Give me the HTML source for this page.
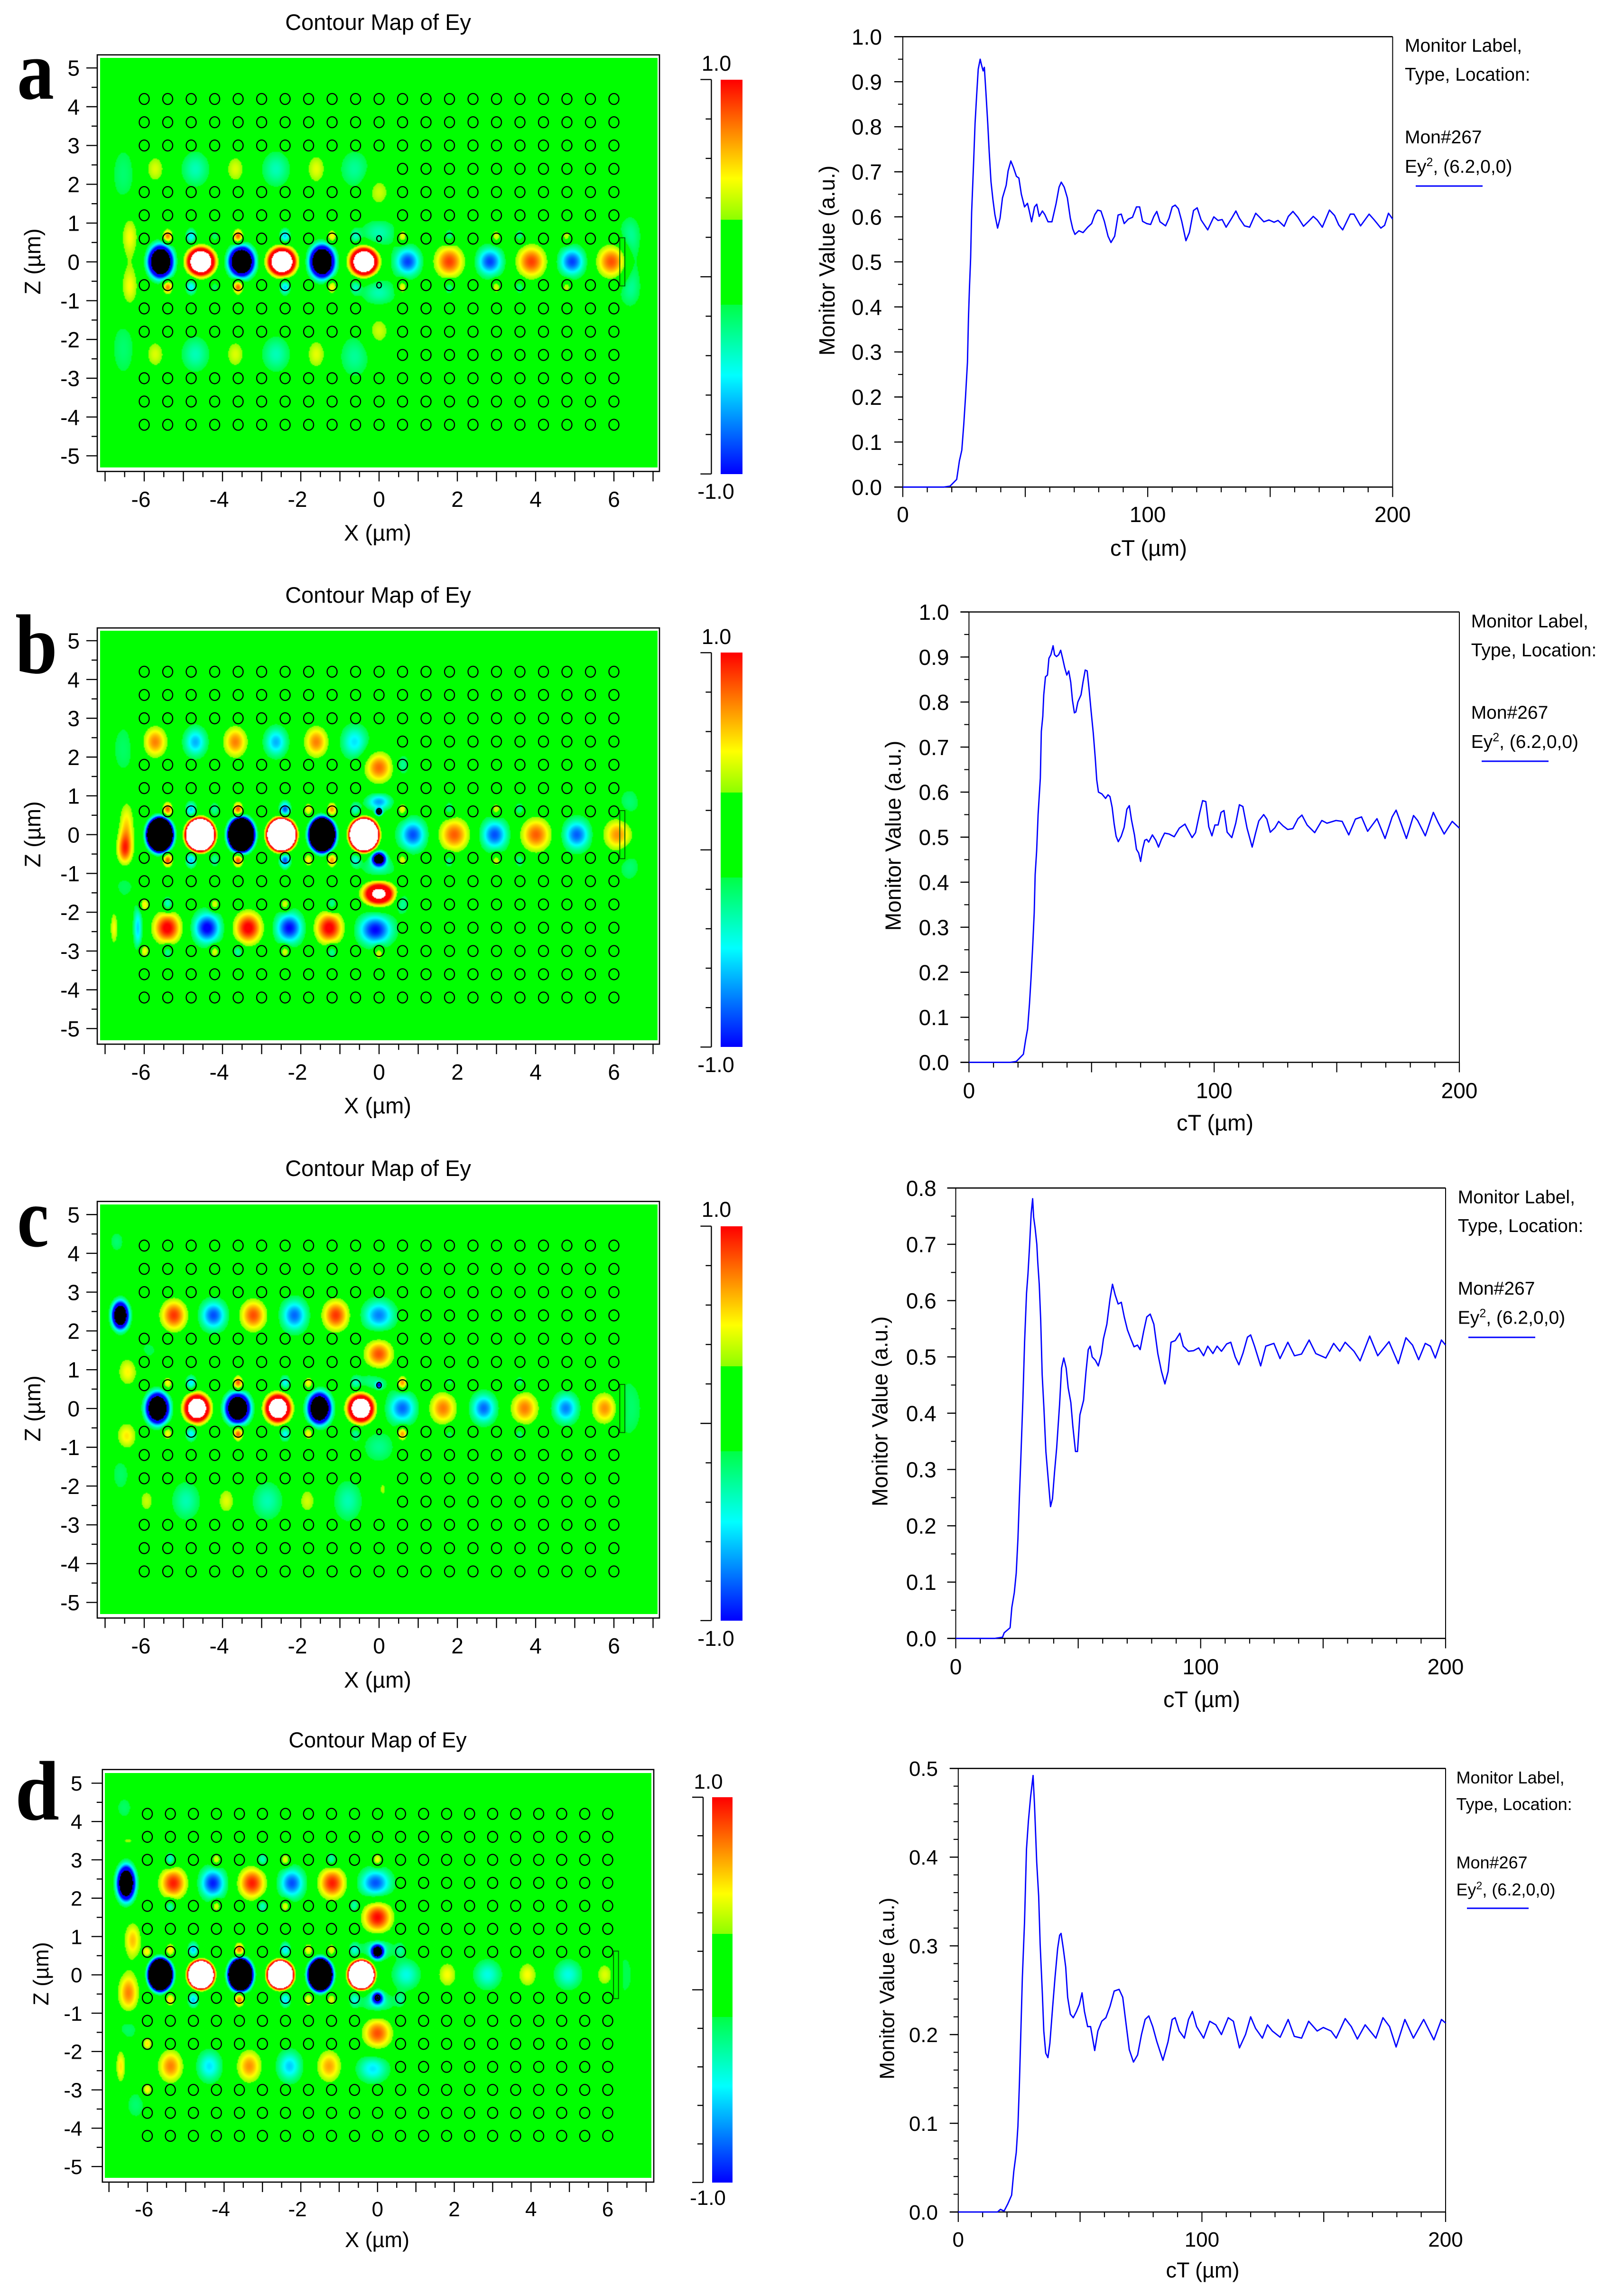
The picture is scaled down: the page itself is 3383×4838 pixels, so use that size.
<!DOCTYPE html>
<html lang="en">
<head>
<meta charset="utf-8">
<title>Contour maps of Ey and monitor traces</title>
<style>
html,body{margin:0;padding:0;background:#fff;}
#page{position:relative;width:3383px;height:4838px;overflow:hidden;background:#fff;}
canvas{position:absolute;display:block;}
svg{position:absolute;left:0;top:0;}
text{font-family:"Liberation Sans",sans-serif;fill:#000;}
.t46{font-size:46px;}
.t47{font-size:47px;}
.t45{font-size:45px;}
.t44{font-size:44px;}
.leg{font-size:39px;}
.legd{font-size:36px;}
.letter{font-family:"Liberation Serif",serif;font-weight:bold;font-size:178px;}
</style>
</head>
<body>
<div id="page">
<canvas id="heat-a"></canvas>
<canvas id="heat-b"></canvas>
<canvas id="heat-c"></canvas>
<canvas id="heat-d"></canvas>
<canvas id="bar-a"></canvas>
<canvas id="bar-b"></canvas>
<canvas id="bar-c"></canvas>
<canvas id="bar-d"></canvas>
<svg id="fig" xmlns="http://www.w3.org/2000/svg" width="3383" height="4838" viewBox="0 0 3383 4838">
<text class="letter" x="36" y="208" textLength="78" lengthAdjust="spacingAndGlyphs">a</text>
<text class="letter" x="32" y="1418" textLength="89" lengthAdjust="spacingAndGlyphs">b</text>
<text class="letter" x="36" y="2626" textLength="67" lengthAdjust="spacingAndGlyphs">c</text>
<text class="letter" x="32" y="3834" textLength="93" lengthAdjust="spacingAndGlyphs">d</text>

<text class="t47" x="797" y="63" text-anchor="middle">Contour Map of Ey</text>
<text class="t47" x="797" y="1270" text-anchor="middle">Contour Map of Ey</text>
<text class="t47" x="797" y="2478" text-anchor="middle">Contour Map of Ey</text>
<text class="t45" x="796" y="3682" text-anchor="middle">Contour Map of Ey</text>

<text class="t47" x="796" y="1139" text-anchor="middle">X (µm)</text>
<text class="t47" x="796" y="2346" text-anchor="middle">X (µm)</text>
<text class="t47" x="796" y="3556" text-anchor="middle">X (µm)</text>
<text class="t45" x="795" y="4735" text-anchor="middle">X (µm)</text>

<text class="t47" transform="translate(85,551) rotate(-90)" text-anchor="middle">Z (µm)</text>
<text class="t47" transform="translate(85,1758) rotate(-90)" text-anchor="middle">Z (µm)</text>
<text class="t47" transform="translate(85,2968) rotate(-90)" text-anchor="middle">Z (µm)</text>
<text class="t45" transform="translate(102,4159) rotate(-90)" text-anchor="middle">Z (µm)</text>

<text class="t45" x="1510" y="149" text-anchor="middle">1.0</text>
<text class="t45" x="1509" y="1051" text-anchor="middle">-1.0</text>
<text class="t45" x="1510" y="1357" text-anchor="middle">1.0</text>
<text class="t45" x="1509" y="2259" text-anchor="middle">-1.0</text>
<text class="t45" x="1510" y="2564" text-anchor="middle">1.0</text>
<text class="t45" x="1509" y="3468" text-anchor="middle">-1.0</text>
<text class="t44" x="1493" y="3769" text-anchor="middle">1.0</text>
<text class="t44" x="1492" y="4646" text-anchor="middle">-1.0</text>

<text class="t46" transform="translate(1759,549) rotate(-90)" text-anchor="middle">Monitor Value (a.u.)</text>
<text class="t46" transform="translate(1898.6,1761) rotate(-90)" text-anchor="middle">Monitor Value (a.u.)</text>
<text class="t46" transform="translate(1870.7,2974) rotate(-90)" text-anchor="middle">Monitor Value (a.u.)</text>
<text class="t44" transform="translate(1884.6,4190) rotate(-90)" text-anchor="middle">Monitor Value (a.u.)</text>

<text class="t47" x="2421" y="1171" text-anchor="middle">cT (µm)</text>
<text class="t47" x="2561" y="2382" text-anchor="middle">cT (µm)</text>
<text class="t47" x="2533" y="3597" text-anchor="middle">cT (µm)</text>
<text class="t45" x="2535" y="4799" text-anchor="middle">cT (µm)</text>

<g>
<text class="leg" x="2961" y="109">Monitor Label,</text>
<text class="leg" x="2961" y="170">Type, Location:</text>
<text class="leg" x="2961" y="302">Mon#267</text>
<text class="leg" x="2961" y="364">Ey<tspan dy="-14" font-size="25">2</tspan><tspan dy="14">, (6.2,0,0)</tspan></text>
<line x1="2984" y1="392" x2="3125" y2="392" stroke="#0000ff" stroke-width="3"/>
</g>
<g>
<text class="leg" x="3100.7" y="1322">Monitor Label,</text>
<text class="leg" x="3100.7" y="1383">Type, Location:</text>
<text class="leg" x="3100.7" y="1514.5">Mon#267</text>
<text class="leg" x="3100.7" y="1576">Ey<tspan dy="-14" font-size="25">2</tspan><tspan dy="14">, (6.2,0,0)</tspan></text>
<line x1="3123" y1="1604" x2="3264" y2="1604" stroke="#0000ff" stroke-width="3"/>
</g>
<g>
<text class="leg" x="3072.8" y="2535.5">Monitor Label,</text>
<text class="leg" x="3072.8" y="2596">Type, Location:</text>
<text class="leg" x="3072.8" y="2728">Mon#267</text>
<text class="leg" x="3072.8" y="2789.5">Ey<tspan dy="-14" font-size="25">2</tspan><tspan dy="14">, (6.2,0,0)</tspan></text>
<line x1="3095" y1="2818" x2="3236" y2="2818" stroke="#0000ff" stroke-width="3"/>
</g>
<g>
<text class="legd" x="3069.5" y="3758">Monitor Label,</text>
<text class="legd" x="3069.5" y="3814">Type, Location:</text>
<text class="legd" x="3069.5" y="3937">Mon#267</text>
<text class="legd" x="3069.5" y="3994">Ey<tspan dy="-13" font-size="23">2</tspan><tspan dy="13">, (6.2,0,0)</tspan></text>
<line x1="3092" y1="4021" x2="3222" y2="4021" stroke="#0000ff" stroke-width="3"/>
</g>
</svg>
</div>
<script>
/* ---------- field data: [x um, z um, amplitude, sigma x, sigma z] ---------- */
const blobsA=[
[-5.58,0,-4.6,.17,.225],[-4.55,0,3.9,.2,.204],[-3.51,0,-4.6,.175,.21],[-2.48,0,3.9,.2,.204],[-1.45,0,-4.6,.17,.225],[-.38,0,3.9,.2,.204],
[.74,0,-.88,.23,.25],[1.8,0,.88,.28,.31],[2.84,0,-.88,.23,.25],[3.9,0,.88,.28,.31],[4.94,0,-.88,.23,.25],[5.95,0,.85,.28,.31],
[-5.72,2.39,.44,.2,.3],[-4.69,2.39,-.36,.26,.33],[-3.67,2.39,.44,.2,.3],[-2.63,2.39,-.36,.26,.33],[-1.6,2.39,.46,.2,.32],[-.62,2.39,-.3,.28,.36],
[-5.72,-2.39,.44,.2,.3],[-4.69,-2.39,-.36,.26,.33],[-3.67,-2.39,.44,.2,.3],[-2.63,-2.39,-.36,.26,.33],[-1.6,-2.39,.46,.2,.32],[-.62,-2.45,-.3,.28,.4],
[-6.53,2.25,-.22,.25,.6],[-6.53,-2.25,-.22,.25,.6],[0,1.79,.42,.22,.3],[0,-1.79,.42,.22,.3],
[-6.37,.65,.5,.17,.42],[-6.37,-.65,.5,.17,.42],
[0,.75,-.35,.32,.25],[0,-.8,-.35,.32,.25],[6.4,.75,-.24,.22,.35],[6.4,-.75,-.24,.22,.35],[6.5,0,-.2,.15,.5]
];
const dotsA=[[-5.4,.8],[-4.8,-.55],[-4.2,-.2],[-3.6,.85],[-2.4,-.6],[-1.2,.55],[-.6,-.35],[.6,.55],[1.8,-.35],[3,.45],[3.6,-.3],[4.8,.4]];
const blobsB=[
[-5.6,0,-40,.13,.17],[-4.57,0,40,.143,.162],[-3.52,0,-40,.13,.17],[-2.49,0,40,.143,.162],[-1.45,0,-40,.13,.17],[-.38,0,40,.143,.162],
[.87,0,-.85,.24,.27],[1.93,0,.82,.29,.32],[2.96,0,-.85,.24,.27],[4.02,0,.82,.29,.32],[5.06,0,-.82,.24,.27],[6.11,0,.72,.28,.32],
[-5.72,2.39,.75,.23,.3],[-4.69,2.39,-.65,.2,.26],[-3.67,2.39,.75,.23,.3],[-2.63,2.39,-.65,.2,.26],[-1.6,2.39,.75,.23,.3],[-.62,2.39,-.55,.24,.3],
[0,1.73,.8,.27,.3],[0,-1.52,2,.26,.193],
[-6.77,-2.4,.5,.08,.35],[-6.16,-2.4,-.6,.08,.38],[-5.41,-2.4,1.05,.26,.3],[-4.39,-2.4,-1.05,.24,.27],[-3.34,-2.4,1.05,.26,.3],[-2.29,-2.4,-1,.24,.27],[-1.27,-2.4,1.05,.26,.3],[-.09,-2.45,-1,.3,.27],
[-6.45,.25,.55,.15,.5],[-6.5,-.4,.72,.15,.3],[-6.53,2.2,-.2,.25,.6],[-6.5,-1.3,-.18,.25,.35],
[0,.85,-.7,.22,.15],[0,-.62,-3,.1,.1],[0,.59,-2.5,.05,.05],[0,-.85,-.35,.3,.2],
[6.4,.8,-.24,.22,.32],[6.4,-.8,-.24,.22,.32],
[-6,-1.8,.55,.09,.12],[-5.4,-1.8,-.5,.09,.14],[-4.2,-1.8,.5,.09,.12],[-2.4,-1.8,.5,.09,.12],[-1.2,-1.8,-.4,.09,.14],[.6,-1.75,-.35,.12,.2],[.6,1.8,-.35,.12,.2],
[-6,-3,.5,.09,.12],[-5.4,-3,-.4,.09,.14],[-4.2,-3,.5,.09,.12],[-3.6,-3,-.4,.09,.12],[-2.4,-3,.5,.09,.12],[-1.2,-3,-.4,.09,.14],[0,-3.05,.5,.09,.14]
];
const dotsB=[[-5.4,.85],[-4.8,-.6],[-4.2,-.3],[-3.6,.85],[-2.4,-.85],[-1.8,.5],[-1.2,.7],[-.6,-.4],[.6,.5],[1.8,-.35],[3,.45],[3.6,-.3]];
const blobsC=[
[-5.66,0,-4.4,.16,.217],[-4.65,0,3.3,.19,.213],[-3.61,0,-4.4,.17,.21],[-2.58,0,3.3,.19,.213],[-1.52,0,-4.4,.16,.217],[-.46,0,3.3,.195,.213],
[.6,0,-.8,.25,.27],[1.64,0,.76,.26,.31],[2.68,0,-.8,.22,.26],[3.73,0,.76,.26,.31],[4.78,0,-.75,.22,.26],[5.8,0,.76,.26,.31],
[-6.61,2.4,-3.6,.12,.2],[-5.24,2.4,.9,.25,.3],[-4.23,2.4,-.85,.23,.26],[-3.21,2.4,.85,.25,.3],[-2.16,2.4,-.8,.23,.28],[-1.1,2.4,.9,.25,.3],[0,2.4,-.75,.28,.27],
[0,1.4,.85,.27,.28],[-6.42,.95,.52,.2,.3],[-6.45,-.72,.55,.2,.28],
[-5.94,-2.39,.4,.16,.26],[-4.93,-2.39,-.35,.26,.36],[-3.9,-2.39,.45,.18,.28],[-2.85,-2.39,-.35,.28,.36],[-1.83,-2.39,.42,.18,.28],[-.79,-2.39,-.35,.26,.38],
[.1,-2.09,.36,.08,.16],[0,-1,-.28,.3,.3],[-6.6,-1.7,-.2,.2,.4],[-6.7,4.3,-.22,.15,.22],[6.35,0,-.26,.3,.6],
[0,.6,-1.1,.05,.05],[-.15,.7,-.3,.3,.2],[-5.9,1.5,-.16,.3,.3]
];
const dotsC=[[-5.4,.5],[-4.8,-.55],[-3.6,.85],[-2.4,-.5],[-1.8,.5],[-.6,-.3],[.6,.75],[1.8,-.25],[3.6,-.3]];
const blobsD=[
[-5.66,0,-40,.122,.162],[-4.6,0,40,.13,.142],[-3.57,0,-40,.122,.162],[-2.53,0,40,.13,.142],[-1.49,0,-40,.122,.162],[-.42,0,40,.13,.142],
[.75,0,-.45,.25,.27],[1.82,0,.5,.2,.27],[2.87,0,-.45,.25,.27],[3.91,0,.5,.2,.27],[4.97,0,-.45,.25,.27],[5.95,0,.5,.2,.27],
[-6.55,2.39,-4,.13,.25],[-5.32,2.39,.95,.26,.3],[-4.29,2.39,-.95,.23,.27],[-3.27,2.39,.95,.26,.3],[-2.23,2.39,-.85,.23,.27],[-1.18,2.39,.95,.26,.3],[-.05,2.39,-.85,.28,.26],
[0,1.5,1,.28,.3],[0,-1.53,.85,.28,.3],
[-6.69,-2.39,.55,.1,.35],[-5.39,-2.39,.75,.24,.32],[-4.38,-2.39,-.55,.22,.28],[-3.34,-2.39,.72,.24,.32],[-2.29,-2.39,-.6,.22,.28],[-1.26,-2.39,.68,.24,.32],[-.12,-2.45,-.55,.28,.25],
[-6.38,.9,.62,.17,.36],[-6.49,-.48,.75,.2,.4],[-6.5,-1.36,-.25,.22,.28],[-6.3,-3.4,-.22,.2,.3],[-6.6,4.36,-.2,.18,.25],[-6.5,3.5,.32,.18,.1],
[0,.6,-3,.09,.1],[0,-.6,-1.5,.09,.1],[0,.7,-.4,.3,.2],[0,-.75,-.4,.3,.2],[6.4,0,-.18,.3,.65],
[-5.4,3,-.5,.09,.13],[-4.2,3,.5,.09,.12],[-3,3,-.45,.09,.12],[-2.4,3,.5,.09,.12],[-1.2,3,-.45,.09,.13],[0,3,.55,.09,.12],
[-5.4,1.8,-.45,.09,.13],[-4.2,1.8,.5,.09,.12],[-3,1.8,-.45,.09,.12],[-2.4,1.8,.5,.09,.12],[-.6,1.8,-.4,.09,.12],
[-6,-1.8,.55,.09,.12],[-6,-3,.55,.09,.12],[-6,.6,.5,.08,.1]
];
const dotsD=[[-5.4,.55],[-4.8,-.6],[-3.6,.8],[-2.4,-.55],[-1.8,.5],[-1.2,.45],[-.6,-.4],[.6,-.25]];

/* ---------- photonic crystal hole lattice ---------- */
const holeColumns=[-6,-5.4,-4.8,-4.2,-3.6,-3,-2.4,-1.8,-1.2,-.6,0,.6,1.2,1.8,2.4,3,3.6,4.2,4.8,5.4,6];
const holeRows=[4.2,3.6,3,2.4,1.8,1.2,.6,-.6,-1.2,-1.8,-2.4,-3,-3.6,-4.2];

/* ---------- map axes ---------- */
const mapXMajorLabels=['-6','-4','-2','0','2','4','6'];
const mapZLabels=['5','4','3','2','1','0','-1','-2','-3','-4','-5'];
const colorbarTicks=[1,.8,.6,.4,.2,0,-.2,-.4,-.6,-.8,-1];

/* ---------- monitor traces ---------- */
const ctA=[0,16.8,19.3,22,23.1,24.1,24.9,25.6,26.4,26.8,27.2,27.7,28.1,28.9,29.5,30.1,30.8,31.6,32.2,32.8,33.3,33.9,34.7,35.3,36,36.8,37.6,38.7,39.7,40.7,42.2,43,44.1,45.1,46.4,47.4,48.4,49.7,50.9,51.6,52.6,53.8,54.7,55.7,57,58,59.3,60.9,62.6,63.8,64.7,65.9,67.2,68.4,69.4,70.3,71.9,73.6,75.5,77.1,78.4,79.6,80.9,82.3,83.8,85,86.5,87.9,89.2,90.4,92.1,93.8,95.4,96.7,97.9,99.6,101.2,102.5,103.7,105,107.3,108.7,110,111.2,112.5,113.9,115.6,117,118.7,120.2,121.8,124.5,127,128.7,130.4,132,134.3,136,137.4,139.5,141.6,144.1,145.7,147.4,149.5,151.6,153.2,155.7,157.4,159.3,161.3,163.6,165.5,167.6,169.2,171.3,174.2,176.3,178,179.6,182.7,184.2,186.9,190.4,192.5,195.2,196.7,198.3,200];
const valueA=[0,0,.002,.017,.058,.082,.139,.2,.277,.374,.439,.509,.61,.719,.807,.865,.928,.95,.936,.924,.932,.88,.807,.743,.678,.638,.605,.575,.597,.642,.67,.702,.724,.711,.69,.686,.65,.622,.63,.614,.589,.622,.628,.601,.613,.605,.589,.589,.63,.666,.677,.666,.642,.597,.573,.561,.569,.565,.577,.585,.605,.615,.613,.59,.557,.543,.557,.604,.606,.585,.595,.599,.622,.622,.59,.585,.583,.601,.612,.589,.58,.597,.622,.626,.618,.59,.547,.565,.614,.62,.593,.571,.6,.592,.594,.577,.597,.613,.597,.58,.577,.608,.599,.589,.593,.588,.592,.579,.601,.612,.599,.579,.589,.601,.593,.577,.615,.603,.582,.571,.606,.606,.58,.606,.593,.575,.581,.608,.595];
const ctB=[0,16.8,19.3,22.2,23.1,23.9,24.7,25.3,26,26.6,27,27.6,28.2,29.1,29.5,30.1,30.5,31.2,32,32.6,33.4,34.3,34.9,35.7,36.6,37.4,38.2,39,39.9,40.7,41.5,42.2,43,43.6,44.4,45.7,46.5,47.4,48.2,49,49.8,50.7,51.5,52.1,52.8,54.2,55.7,56.7,57.5,58.4,59.2,60,60.9,62.1,63.3,64.4,65.4,66.3,67.5,68.3,69.2,70,70.8,71.7,72.5,73.3,74.8,76.2,77.3,78.5,79.8,81.6,83.7,85.8,88.1,89.5,91,92.4,94.1,95.3,96.6,97.8,99.1,100.3,101.6,102.8,104,105.3,107.2,108.8,110.3,111.7,113.4,115.5,116.9,118.2,120.2,121.5,122.9,124.8,126.3,128.1,130,132.1,134.2,135.8,137.9,141,143.9,146,149.7,152.2,154.9,157.6,160.1,162.6,166.4,169.7,172.6,174.2,176.3,178.4,181.3,183,186.1,189.4,191.3,193.8,197.1,200];
const valueB=[0,0,.002,.018,.05,.074,.131,.187,.26,.332,.417,.469,.55,.631,.735,.768,.816,.856,.86,.897,.905,.925,.905,.901,.905,.915,.897,.877,.86,.869,.844,.804,.776,.778,.8,.816,.844,.871,.869,.828,.78,.731,.675,.627,.6,.596,.586,.594,.59,.566,.53,.502,.49,.502,.522,.562,.57,.538,.505,.473,.465,.446,.473,.493,.495,.489,.505,.493,.478,.495,.509,.507,.501,.52,.529,.514,.499,.51,.554,.581,.579,.523,.503,.527,.527,.555,.559,.511,.499,.531,.572,.568,.52,.478,.509,.536,.55,.54,.511,.521,.535,.525,.517,.519,.541,.549,.527,.51,.537,.531,.537,.535,.505,.54,.545,.513,.541,.497,.545,.56,.529,.497,.548,.537,.503,.555,.533,.507,.535,.52];
const ctC=[0,16,19.1,19.8,22.2,22.9,23.9,24.7,25.4,26,26.6,27.4,28.1,28.9,29.5,30.1,30.8,31.4,31.8,32.4,33.1,33.5,34.1,34.7,35.3,36,36.8,37.8,38.7,39.5,40.3,41.2,42.4,43.2,44.1,45.1,45.9,47,47.8,48.9,49.7,50.7,52.2,53.2,54.1,54.9,55.7,57,58.2,59.5,60.3,61.7,63,64,65.1,66.3,67.6,68.8,70.1,71.5,72.8,74.2,75.3,76.7,78,79.4,80.9,82.5,84,85.4,86.7,87.9,89.6,91.5,92.9,95,97.1,99.2,101.2,102.9,105,106.7,108.5,110.6,112.3,114.1,115.6,117.3,119.1,120.4,122,124.5,126.6,129.9,132.4,135.6,138.3,141.2,144.3,147,151.1,154.3,156.8,159,162.6,165.1,169,172.3,176.9,180.7,183.8,186.5,189,191.7,193.8,195.8,198.3,200];
const valueC=[0,0,.002,.01,.019,.055,.081,.116,.177,.251,.322,.423,.526,.613,.648,.694,.755,.781,.748,.729,.7,.668,.629,.565,.468,.41,.332,.281,.234,.248,.293,.338,.416,.48,.498,.48,.445,.419,.377,.332,.332,.397,.423,.474,.513,.519,.5,.494,.484,.506,.532,.558,.603,.629,.61,.594,.597,.571,.548,.532,.518,.521,.513,.545,.571,.576,.558,.506,.474,.452,.474,.526,.529,.542,.519,.51,.511,.516,.502,.519,.506,.519,.51,.523,.526,.5,.486,.507,.535,.539,.519,.484,.519,.524,.497,.526,.502,.505,.53,.506,.498,.524,.51,.526,.51,.493,.537,.502,.527,.488,.534,.521,.495,.524,.519,.498,.53,.521];
const ctD=[0,16.1,17.3,18.8,20.3,21.9,22.8,23.8,24.5,25.1,25.7,26.3,27.2,28,28.8,29.7,30.7,31.3,32.2,33,33.6,34.5,35.1,35.9,36.8,37.6,38.7,39.7,40.8,41.6,42.2,43.1,44.1,44.9,46,47.2,48.5,49.7,50.8,51.8,53.1,54.3,56,57.3,58.9,60.6,62.3,64,66,67.5,69,70.2,71.9,73.6,75.2,76.7,78.2,79.8,81.5,84,86.1,87.8,89,90.7,92.8,94.5,96.1,97.8,100.7,103.2,105.7,108,110.8,112.9,115.4,117.9,120,122,124.8,126.9,128.9,132.1,135.4,137.9,140.9,143.8,147.3,149.8,153,155.1,158.8,161.3,163.8,167,171.4,174.3,177,179.7,183.3,186.8,191,195.2,198.3,200];
const valueD=[0,0,.003,.001,.009,.019,.046,.067,.097,.145,.204,.264,.327,.409,.441,.468,.492,.458,.394,.356,.302,.247,.204,.179,.174,.19,.23,.264,.297,.312,.314,.297,.276,.242,.223,.219,.226,.234,.247,.226,.209,.209,.182,.204,.215,.219,.232,.249,.251,.242,.209,.183,.169,.177,.2,.217,.221,.209,.192,.171,.192,.217,.219,.204,.196,.217,.226,.209,.196,.215,.211,.2,.219,.215,.185,.2,.22,.207,.196,.211,.204,.197,.217,.198,.196,.215,.204,.208,.204,.196,.218,.209,.195,.211,.196,.219,.209,.186,.217,.196,.217,.194,.217,.213];
const ctTickLabels=['0','100','200'];
const valueTicksFull=['0.0','0.1','0.2','0.3','0.4','0.5','0.6','0.7','0.8','0.9','1.0'];
const valueTicksC=['0.0','0.1','0.2','0.3','0.4','0.5','0.6','0.7','0.8'];
const valueTicksD=['0.0','0.1','0.2','0.3','0.4','0.5'];

/* ---------- layout ---------- */
const mapPanels=[
 {id:'a',blobs:blobsA,dots:dotsA,x0:799,kx:82.5,z0:551.8,kz:81.73,L:205,R:1390,fL:211,fR:1386,T:115.6,B:993.4,fT:122,fB:985,cbL:1519,cbR:1564.5,cbT:167.6,cbB:998.7,cbAxis:1499.4,xLab:1068,zLab:168,fs:46},
 {id:'b',blobs:blobsB,dots:dotsB,x0:799,kx:82.5,z0:1758.7,kz:81.73,L:205,R:1390,fL:211,fR:1386,T:1323.2,B:2200.2,fT:1329.3,fB:2191.8,cbL:1519,cbR:1564.5,cbT:1375.3,cbB:2206.3,cbAxis:1499.4,xLab:2275,zLab:168,fs:46},
 {id:'c',blobs:blobsC,dots:dotsC,x0:799,kx:82.5,z0:2967.9,kz:81.73,L:205,R:1390,fL:211,fR:1386,T:2531.6,B:3409.4,fT:2537.9,fB:3400.9,cbL:1519,cbR:1564.5,cbT:2583.7,cbB:3414.8,cbAxis:1499.4,xLab:3484,zLab:168,fs:46},
 {id:'d',blobs:blobsD,dots:dotsD,x0:795.8,kx:80.87,z0:4161.3,kz:80.78,L:215.8,R:1378,fL:221.2,fR:1372.6,T:3728.7,B:4598,fT:3735.8,fB:4589.3,cbL:1500.5,cbR:1544,cbT:3787,cbB:4598.7,cbAxis:1482,xLab:4670,zLab:173.5,fs:44}
];
const chartPanels=[
 {id:'a',ct:ctA,val:valueA,labels:valueTicksFull,yMax:1,minor:.05,L:1902.9,R:2935.4,T:77.3,B:1026.3,yLab:1859,xLab:1100,fs:46},
 {id:'b',ct:ctB,val:valueB,labels:valueTicksFull,yMax:1,minor:.05,L:2042.4,R:3076,T:1289.5,B:2238.5,yLab:2000.5,xLab:2314,fs:46},
 {id:'c',ct:ctC,val:valueC,labels:valueTicksC,yMax:.8,minor:.05,L:2014.5,R:3047,T:2503.3,B:3452.3,yLab:1973.7,xLab:3528,fs:46},
 {id:'d',ct:ctD,val:valueD,labels:valueTicksD,yMax:.5,minor:.02,L:2019.8,R:3047,T:3726.3,B:4661,yLab:1977,xLab:4734,fs:44}
];

const NS='http://www.w3.org/2000/svg';
const fig=document.getElementById('fig');
function mk(tag,attrs,parent){
  const el=document.createElementNS(NS,tag);
  for(const k in attrs)el.setAttribute(k,attrs[k]);
  (parent||fig).appendChild(el);
  return el;
}
function lerp(a,b,t){return a+(b-a)*t;}
const stops=[[1,255,0,0],[.75,255,128,0],[.5,255,255,0],[.29,140,255,0]];
const lowStops=[[-.14,0,255,70],[-.5,0,255,255],[-.75,0,128,255],[-1,0,0,255]];
function ramp(list,v){
  for(let i=0;i<list.length-1;i++){
    const a=list[i],b=list[i+1];
    if(v<=Math.max(a[0],b[0])&&v>=Math.min(a[0],b[0])){
      const t=(v-a[0])/(b[0]-a[0]);
      return [lerp(a[1],b[1],t),lerp(a[2],b[2],t),lerp(a[3],b[3],t)];
    }
  }
  return [0,255,0];
}
function colorOf(v){
  if(v>1.6)return [255,255,255];
  if(v<-1.6)return [0,0,0];
  if(v>=1)return [255,0,0];
  if(v<=-1)return [0,0,255];
  if(v>=.29)return ramp(stops,v);
  if(v<=-.14)return ramp(lowStops,v);
  return [0,255,0];
}
function drawField(p){
  const c=document.getElementById('heat-'+p.id);
  const step=2;
  const w=Math.round((p.fR-p.fL)/step),h=Math.round((p.fB-p.fT)/step);
  c.width=w;c.height=h;
  c.style.left=p.fL+'px';c.style.top=p.fT+'px';
  c.style.width=(p.fR-p.fL)+'px';c.style.height=(p.fB-p.fT)+'px';
  const all=p.blobs.slice();
  p.dots.forEach(function(d){
    all.push([d[0],.66,d[1],.09,.13]);
    all.push([d[0],-.66,d[1],.09,.13]);
  });
  const ctx=c.getContext('2d');
  const img=ctx.createImageData(w,h);
  for(let j=0;j<h;j++){
    const z=(p.z0-(p.fT+(j+.5)*step))/p.kz;
    for(let i=0;i<w;i++){
      const x=(p.fL+(i+.5)*step-p.x0)/p.kx;
      let v=0;
      for(let n=0;n<all.length;n++){
        const b=all[n];
        const dx=(x-b[0])/b[3],dz=(z-b[1])/b[4];
        const r=dx*dx+dz*dz;
        if(r<30)v+=b[2]*Math.exp(-r/2);
      }
      const col=colorOf(v),o=(j*w+i)*4;
      img.data[o]=col[0];img.data[o+1]=col[1];img.data[o+2]=col[2];img.data[o+3]=255;
    }
  }
  ctx.putImageData(img,0,0);
}
function drawBar(p){
  const c=document.getElementById('bar-'+p.id);
  const h=Math.round(p.cbB-p.cbT);
  c.width=1;c.height=h;
  c.style.left=p.cbL+'px';c.style.top=p.cbT+'px';
  c.style.width=(p.cbR-p.cbL)+'px';c.style.height=h+'px';
  c.style.imageRendering='pixelated';
  const ctx=c.getContext('2d');
  for(let j=0;j<h;j++){
    const v=.9999-1.9998*j/(h-1);
    const col=colorOf(v);
    ctx.fillStyle='rgb('+col[0]+','+col[1]+','+col[2]+')';
    ctx.fillRect(0,j,1,1);
  }
}
function drawMapAxes(p){
  const g=mk('g',{});
  
  
  const xS=function(x){return p.x0+x*p.kx;};
  const zS=function(z){return p.z0-z*p.kz;};
  const frame=mk('rect',{x:p.L,y:p.T,width:p.R-p.L,height:p.B-p.T,fill:'none',stroke:'#000','stroke-width':2.6},g);
  
  
  for(let i=-14;i<=14;i++){
    const v=i/2,len=(i%2===0)?21:12;
    const t=mk('line',{x1:xS(v),x2:xS(v),y1:p.B,y2:p.B+len,stroke:'#000','stroke-width':2.4},g);
    
    
  }
  for(let i=-10;i<=10;i++){
    const v=i/2,len=(i%2===0)?23:12;
    const t=mk('line',{x1:p.L-len,x2:p.L,y1:zS(v),y2:zS(v),stroke:'#000','stroke-width':2.4},g);
    
    
  }
  mapXMajorLabels.forEach(function(s){
    const t=mk('text',{x:xS(Number(s))-(Number(s)<0?7:0),y:p.xLab,'text-anchor':'middle','font-size':p.fs},g);
    t.textContent=s;
    
    
  });
  mapZLabels.forEach(function(s){
    const t=mk('text',{x:p.zLab,y:zS(Number(s))+p.fs*.36,'text-anchor':'end','font-size':p.fs},g);
    t.textContent=s;
    
    
  });
  /* holes */
  holeRows.forEach(function(z){
    holeColumns.forEach(function(x){
      const az=Math.abs(z);
      if(az===2.4&&x<.5)return;
      if((az===1.2||az===1.8)&&x===0)return;
      const small=(az===.6&&x===0);
      const h=mk('ellipse',{cx:xS(x),cy:zS(z),rx:small?5:10.5,ry:small?6:11.5,fill:'none',stroke:'#000','stroke-width':2.4},g);
      
      
    });
  });
  const mon=mk('rect',{x:xS(6.15),y:zS(.62),width:xS(6.28)-xS(6.15),height:zS(-.62)-zS(.62),fill:'none',stroke:'#006600','stroke-width':2},g);
  
  
  /* colorbar axis */
  const ax=mk('line',{x1:p.cbAxis,x2:p.cbAxis,y1:p.cbT,y2:p.cbB,stroke:'#000','stroke-width':2.4},g);
  
  
  colorbarTicks.forEach(function(v){
    const y=p.cbB-(v+1)/2*(p.cbB-p.cbT);
    const len=(v===1||v===-1||v===0)?23:12;
    const t=mk('line',{x1:p.cbAxis-len,x2:p.cbAxis,y1:y,y2:y,stroke:'#000','stroke-width':2.4},g);
    
    
  });
}
function drawChart(p){
  const g=mk('g',{});
  
  
  const xS=function(x){return p.L+x/200*(p.R-p.L);};
  const yS=function(y){return p.B-y/p.yMax*(p.B-p.T);};
  const top=mk('line',{x1:p.L-18,x2:p.R,y1:p.T,y2:p.T,stroke:'#000','stroke-width':2.6},g);
  
  
  const right=mk('line',{x1:p.R,x2:p.R,y1:p.T,y2:p.B,stroke:'#000','stroke-width':2},g);
  
  
  const left=mk('line',{x1:p.L,x2:p.L,y1:p.T,y2:p.B,stroke:'#000','stroke-width':2},g);
  
  
  const bottom=mk('line',{x1:p.L-18,x2:p.R,y1:p.B,y2:p.B,stroke:'#000','stroke-width':2.6},g);
  
  
  for(let v=0;v<=200;v+=10){
    const len=(v%50===0)?21:11;
    const t=mk('line',{x1:xS(v),x2:xS(v),y1:p.B,y2:p.B+len,stroke:'#000','stroke-width':2.2},g);
    
    
  }
  const nMinor=Math.round(p.yMax/p.minor);
  for(let i=1;i<nMinor;i++){
    const v=i*p.minor;
    const t=mk('line',{x1:p.L-10,x2:p.L,y1:yS(v),y2:yS(v),stroke:'#000','stroke-width':2.2},g);
    
    
  }
  p.labels.forEach(function(s){
    const v=Number(s);
    const t=mk('line',{x1:p.L-18,x2:p.L,y1:yS(v),y2:yS(v),stroke:'#000','stroke-width':2.4},g);
    
    
    const l=mk('text',{x:p.yLab,y:yS(v)+p.fs*.36,'text-anchor':'end','font-size':p.fs},g);
    l.textContent=s;
    
    
  });
  ctTickLabels.forEach(function(s){
    const l=mk('text',{x:xS(Number(s)),y:p.xLab,'text-anchor':'middle','font-size':p.fs},g);
    l.textContent=s;
    
    
  });
  const pts=p.ct.map(function(c,i){return xS(c).toFixed(1)+','+yS(p.val[i]).toFixed(1);}).join(' ');
  const line=mk('polyline',{points:pts,fill:'none',stroke:'#0000ff','stroke-width':2.8,'stroke-linejoin':'round'},g);
  
  
}
mapPanels.forEach(function(p){drawField(p);drawBar(p);drawMapAxes(p);});
chartPanels.forEach(drawChart);
</script>
</body>
</html>
